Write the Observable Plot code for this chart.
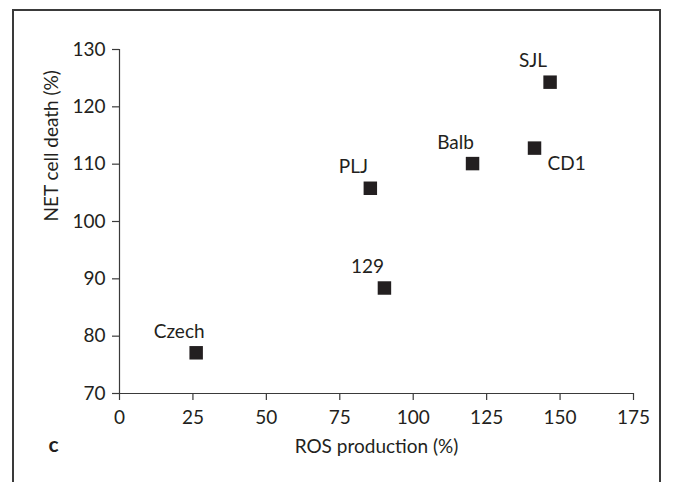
<!DOCTYPE html>
<html>
<head>
<meta charset="utf-8">
<script src="https://cdn.jsdelivr.net/npm/d3@7"></script>
<script src="https://cdn.jsdelivr.net/npm/@observablehq/plot@0.6"></script>
<style>
  html, body { margin: 0; padding: 0; background: #fff; overflow: hidden; }
  #wrap { position: relative; width: 678px; height: 482px; }
  #border { position: absolute; left: 12px; top: 9px; width: 649px; height: 520px;
            border: 2px solid #3a3a3a; box-sizing: border-box; }
  #chart { position: absolute; left: 0; top: 0; }
</style>
</head>
<body>
<div id="wrap"><div id="border"></div><div id="chart"></div></div>
<script>
const strains = ["SJL", "CD1", "Balb", "PLJ", "129", "Czech"];
const ros = [146.6, 141.3, 120.2, 85.4, 90.2, 26.1];
const netDeath = [124.3, 112.8, 110.1, 105.8, 88.4, 77.1];
const xTicks = [0, 25, 50, 75, 100, 125, 150, 175];
const yTicks = [70, 80, 90, 100, 110, 120, 130];
const xTitle = "ROS production (%)";
const yTitle = "NET cell death (%)";
const panelLetter = "c";
const labelBelowRight = ["CD1"];

const data = strains.map((s, i) => ({strain: s, x: ros[i], y: netDeath[i]}));
const ink = "#231f20";
const axisInk = "#3a3a3a";
const font = "Lato, 'Open Sans', sans-serif";
const fs = 19;

const plot = Plot.plot({
  width: 678,
  height: 482,
  marginLeft: 119,
  marginRight: 45,
  marginTop: 49,
  marginBottom: 89,
  style: {fontFamily: font, fontSize: fs + "px", color: ink, background: "transparent", overflow: "visible"},
  x: {domain: [0, 175]},
  y: {domain: [70, 130]},
  marks: [
    Plot.ruleY([70], {x1: 0, x2: 175, stroke: axisInk, strokeWidth: 1.2}),
    Plot.ruleX([0], {y1: 70, y2: 130, stroke: axisInk, strokeWidth: 1.2}),
    Plot.axisX(xTicks, {tickSize: 7, text: null, label: null, stroke: axisInk, strokeWidth: 1.2}),
    Plot.axisY(yTicks, {tickSize: 7, text: null, label: null, stroke: axisInk, strokeWidth: 1.2}),
    Plot.text(xTicks, {x: d => d, y: () => 70, text: d => String(d), dy: 24, lineAnchor: "middle",
      fill: ink, fontSize: fs}),
    Plot.text(yTicks, {x: () => 0, y: d => d, text: d => String(d), dx: -14, textAnchor: "end",
      lineAnchor: "middle", fill: ink, fontSize: fs}),
    Plot.text([xTitle], {frameAnchor: "bottom", dy: 53, lineAnchor: "middle", fill: ink, fontSize: fs}),
    Plot.text([yTitle], {frameAnchor: "left", dx: -67.5, rotate: -90, lineAnchor: "middle", fill: ink, fontSize: fs}),
    Plot.dot(data, {x: "x", y: "y", symbol: "square", r: 7.6, fill: ink, stroke: "none"}),
    Plot.text(data.filter(d => !labelBelowRight.includes(d.strain)),
      {x: "x", y: "y", text: "strain", dx: -17, dy: -21, lineAnchor: "middle", fill: ink, fontSize: fs}),
    Plot.text(data.filter(d => labelBelowRight.includes(d.strain)),
      {x: "x", y: "y", text: "strain", dx: 13, dy: 16, textAnchor: "start", lineAnchor: "middle", fill: ink, fontSize: fs}),
    Plot.text([panelLetter], {frameAnchor: "bottom-left", dx: -71, dy: 52, lineAnchor: "middle",
      fontWeight: "bold", fill: ink, fontSize: 21})
  ]
});
document.getElementById("chart").appendChild(plot);
</script>
</body>
</html>
